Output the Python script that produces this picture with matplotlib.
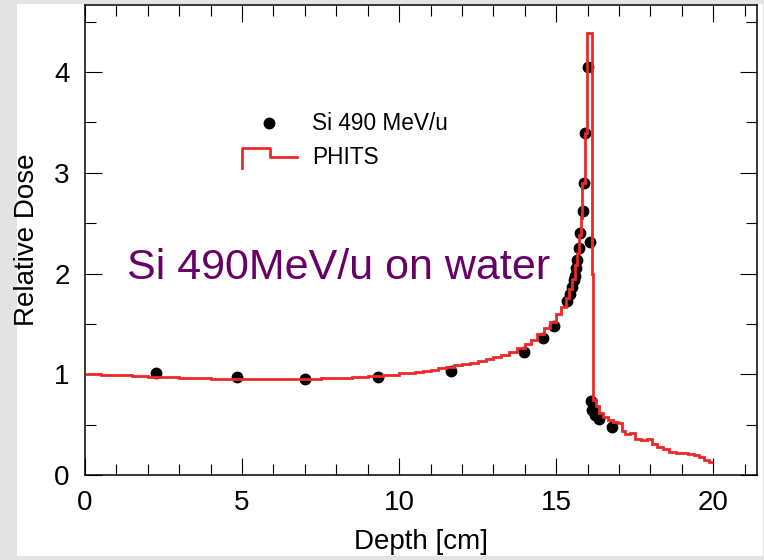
import matplotlib
matplotlib.use("Agg")
import matplotlib.pyplot as plt
from matplotlib.patches import Rectangle
from matplotlib.ticker import MultipleLocator

# measured points (Si 490 MeV/u)
exp_depth = [2.26, 4.83, 7.0, 9.32, 11.65, 13.96, 14.57, 14.92, 15.34, 15.45, 15.5,
             15.55, 15.6, 15.64, 15.66, 15.71, 15.76, 15.84, 15.87, 15.92, 16.02,
             16.08, 16.12, 16.15, 16.24, 16.36, 16.76]
exp_dose = [1.01, 0.97, 0.95, 0.97, 1.03, 1.22, 1.36, 1.48, 1.73, 1.80, 1.87,
            1.94, 1.98, 2.05, 2.13, 2.25, 2.40, 2.62, 2.90, 3.39, 4.05,
            2.31, 0.73, 0.65, 0.60, 0.56, 0.48]

# PHITS histogram (bin edges in cm, dose per bin)
phits_edges = [0.0, 0.5, 1.0, 1.5, 2.0, 2.5, 3.0, 3.5, 4.0, 4.5, 5.0, 5.5, 6.0, 6.5,
               7.0, 7.5, 8.0, 8.5, 9.0, 9.5, 10.0, 10.25, 10.5, 10.75, 11.0, 11.25,
               11.5, 11.75, 12.0, 12.25, 12.5, 12.75, 13.0, 13.25, 13.5, 13.75, 14.0,
               14.2, 14.4, 14.6, 14.8, 15.0, 15.15, 15.3, 15.4, 15.5, 15.6, 15.67,
               15.73, 15.78, 15.83, 15.9, 15.97, 16.13, 16.18, 16.25, 16.35, 16.5,
               16.65, 16.8, 16.95, 17.1, 17.2, 17.35, 17.5, 17.7, 17.9, 18.05, 18.2,
               18.4, 18.6, 18.8, 19.0, 19.2, 19.4, 19.55, 19.7, 19.85, 20.0]
phits_dose = [1.00, 0.995, 0.99, 0.98, 0.975, 0.97, 0.965, 0.96, 0.955, 0.955, 0.95,
              0.955, 0.95, 0.95, 0.955, 0.96, 0.965, 0.975, 0.985, 0.995,
              1.01, 1.015, 1.025, 1.035, 1.045, 1.06, 1.075, 1.09, 1.10, 1.115,
              1.13, 1.15, 1.17, 1.195, 1.22, 1.26, 1.30, 1.34, 1.40, 1.46, 1.52,
              1.60, 1.67, 1.76, 1.85, 1.95, 2.08, 2.20, 2.38, 2.55, 2.90, 3.39, 4.39,
              2.00, 0.74, 0.68, 0.62, 0.58, 0.55, 0.53, 0.52, 0.44, 0.41, 0.42, 0.36,
              0.35, 0.36, 0.31, 0.28, 0.26, 0.23, 0.22, 0.215, 0.21, 0.20, 0.18,
              0.15, 0.13]

plt.rcParams['font.family'] = ['Liberation Sans', 'DejaVu Sans']

fig = plt.figure(figsize=(7.64, 5.6), dpi=100, facecolor='#e3e3e3')
# white slide panel behind the chart
fig.patches.append(Rectangle((17 / 764, 4 / 560), 746 / 764, 552 / 560,
                             transform=fig.transFigure, facecolor='white',
                             edgecolor='none', zorder=-10))

ax = fig.add_axes([85 / 764, 85 / 560, 672 / 764, 470.5 / 560])
ax.set_facecolor('white')

red = '#ee2828'
ax.stairs(phits_dose, phits_edges, baseline=None, color=red, linewidth=2.0, zorder=3)
ax.plot(exp_depth, exp_dose, 'o', color='black', markersize=7.5, zorder=2)

ax.set_xlim(0, 21.39)
ax.set_ylim(0, 4.67)
ax.xaxis.set_major_locator(MultipleLocator(5))
ax.xaxis.set_minor_locator(MultipleLocator(1))
ax.yaxis.set_major_locator(MultipleLocator(1))
ax.yaxis.set_minor_locator(MultipleLocator(0.5))
ax.tick_params(which='both', direction='in', top=True, right=True, width=0.8,
               labelsize=20, pad=11)
ax.tick_params(which='major', length=12)
ax.tick_params(which='minor', length=8)
for s in ax.spines.values():
    s.set_linewidth(1.1)

ax.set_xlabel('Depth [cm]', fontsize=20, labelpad=9)
ax.set_ylabel('Relative Dose', fontsize=20, labelpad=10)

# legend drawn by hand (step symbol like the original)
ax.plot([0.2743], [0.7472], 'o', color='black', markersize=7.5, transform=ax.transAxes)
ax.text(0.3373, 0.7472, 'Si 490 MeV/u', fontsize=16.3, va='center', transform=ax.transAxes)
ax.plot([0.2332, 0.2332, 0.2752, 0.2752, 0.3149], [0.6516, 0.6941, 0.6941, 0.675, 0.675],
        color=red, linewidth=2.0, transform=ax.transAxes)
ax.text(0.3373, 0.675, 'PHITS', fontsize=16.3, va='center', transform=ax.transAxes)

ax.text(0.0625, 0.44, 'Si 490MeV/u on water', fontsize=31, color='#660066',
        va='center', transform=ax.transAxes)

fig.savefig('out.png', dpi=100, facecolor=fig.get_facecolor())
